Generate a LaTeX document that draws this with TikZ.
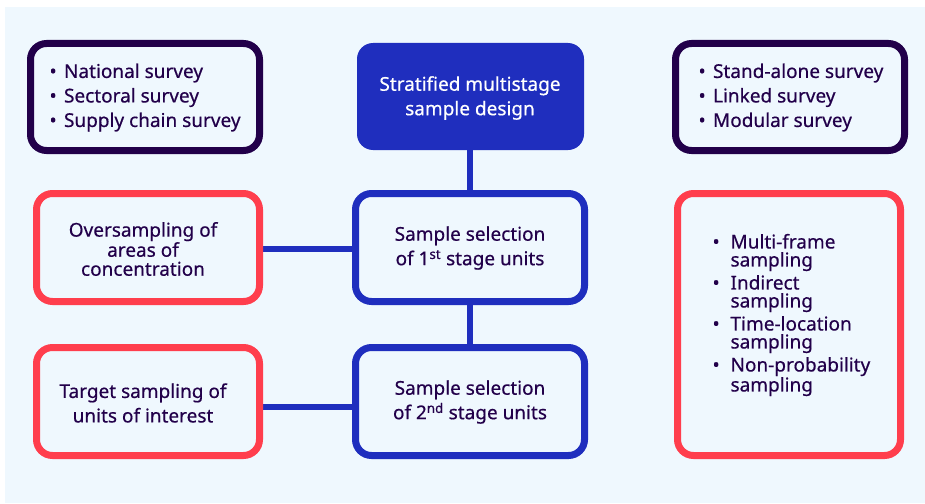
\documentclass[tikz,border=0pt]{standalone}
\usepackage{fontspec}
\setmainfont{Noto Sans}[FakeBold=0.5,AutoFakeBold=0.5]
\definecolor{ink}{HTML}{22004A}
\definecolor{royal}{HTML}{1F2EBE}
\definecolor{coral}{HTML}{FF3E4D}
\definecolor{pale}{HTML}{EFF8FE}
\newcommand{\bul}{\makebox[14.5pt][l]{\textbullet}}
\newcommand{\bulw}{\makebox[18pt][l]{\textbullet}}
\newcommand{\hang}{\hspace*{18pt}}
\begin{document}
\begin{tikzpicture}[x=1pt,y=-1pt,
  box/.style={draw, line width=7pt, rounded corners=16pt, fill=pale},
  inkbox/.style={box, draw=ink},
  bluebox/.style={box, draw=royal},
  redbox/.style={box, draw=coral},
  label/.style={text=ink, font=\fontsize{19}{24.5}\selectfont\bfseries, align=center},
  link/.style={draw=royal, line width=6.5pt}]
\useasboundingbox (0,0) rectangle (925,503);
\fill[pale] (5,7) rectangle (925,503);

% connectors (drawn first, boxes cover their ends)
\coordinate (topc) at (470,150);
\coordinate (c1top) at (470,190);
\coordinate (c1bot) at (470,305);
\coordinate (c2top) at (470,344);
\draw[link] (topc) -- (c1top);
\draw[link] (c1bot) -- (c2top);
\coordinate (l1r) at (263,249);
\coordinate (c1l) at (352,249);
\coordinate (l2r) at (263,407);
\coordinate (c2l) at (352,407);
\draw[link] (l1r) -- (c1l);
\draw[link] (l2r) -- (c2l);

% boxes
\draw[inkbox] (30.5,43.5) rectangle (259.5,150.5);
\fill[royal, rounded corners=16pt] (357,43) rectangle (584,150);
\draw[bluebox] (355.5,193.5) rectangle (584.5,301.5);
\draw[bluebox] (355.5,347.5) rectangle (584.5,455.5);
\draw[redbox] (36.5,193.5) rectangle (259.5,301.5);
\draw[redbox] (36.5,347.5) rectangle (259.5,455.5);
\draw[inkbox] (675.5,43.5) rectangle (904.5,150.5);
\draw[redbox] (677.5,193.5) rectangle (900.5,455.5);

% texts
\node[label, text=white] (top) at (470,98) {Stratified multistage\\sample design};
\node[label] (c1) at (470,248) {Sample selection\\of 1\textsuperscript{st} stage units};
\node[label] (c2) at (470,402) {Sample selection\\of 2\textsuperscript{nd} stage units};
\node[label, font=\fontsize{19}{19}\selectfont\bfseries] (l1) at (143,249) {Oversampling of\\areas of\\concentration};
\node[label] (l2) at (143,403) {Target sampling of\\units of interest};
\node[label, align=left, anchor=west] (tl) at (46,97.5) {\bul National survey\\\bul Sectoral survey\\\bul Supply chain survey};
\node[label, align=left, anchor=west] (tr) at (695,97.5) {\bul Stand-alone survey\\\bul Linked survey\\\bul Modular survey};
\node[label, align=left, anchor=west, font=\fontsize{19}{18}\selectfont\bfseries] (rr) at (709,315)
  {\bulw Multi-frame\\\hang sampling\\[3pt]\bulw Indirect\\\hang sampling\\[3pt]\bulw Time-location\\\hang sampling\\[3pt]\bulw Non-probability\\\hang sampling};
\end{tikzpicture}
\end{document}
